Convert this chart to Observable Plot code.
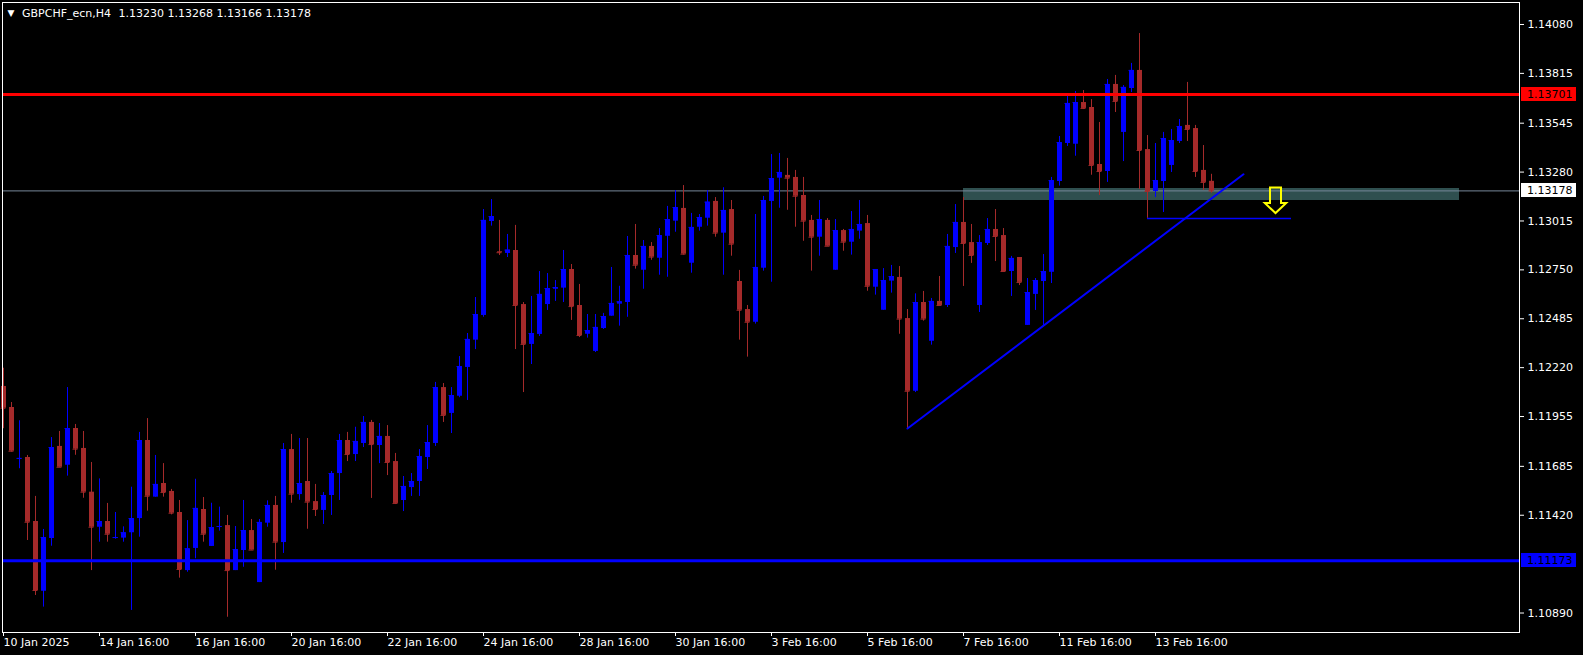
<!DOCTYPE html>
<html>
<head>
<meta charset="utf-8">
<script src="https://cdn.jsdelivr.net/npm/d3@7"></script>
<script src="https://cdn.jsdelivr.net/npm/@observablehq/plot@0.6"></script>
<style>
html, body { margin: 0; padding: 0; background: #000; }
#chart { width: 1583px; height: 655px; overflow: hidden; }
</style>
</head>
<body>
<div id="chart"></div>
<script>
// ---- Data (GBPCHF_ecn, H4) ----
const symbolName = "GBPCHF_ecn,H4";

const opens = [1.12118,1.12004,1.11725,1.11733,1.11386,1.11008,1.11294,1.11793,1.11691,1.11890,
1.11782,1.11545,1.11355,1.11386,1.11294,1.11296,1.11325,1.11402,1.11825,1.11518,
1.11592,1.11549,1.11435,1.11120,1.11240,1.11451,1.11251,1.11355,1.11364,1.11120,
1.11229,1.11337,1.11055,1.11377,1.11473,1.11272,1.11776,1.11532,1.11603,1.11494,
1.11446,1.11527,1.11646,1.11825,1.11749,1.11809,1.11923,1.11798,1.11847,1.11711,
1.11500,1.11570,1.11603,1.11733,1.11809,1.12112,1.11972,1.12065,1.12221,1.12369,
1.12503,1.13012,1.12848,1.12839,1.12855,1.12562,1.12346,1.12400,1.12562,1.12645,
1.12651,1.12752,1.12557,1.12401,1.12308,1.12432,1.12499,1.12564,1.12573,1.12828,
1.12748,1.12877,1.12813,1.12932,1.13014,1.13083,1.12786,1.12981,1.13030,1.13121,
1.12949,1.13077,1.12687,1.12535,1.12466,1.12759,1.13121,1.13247,1.13262,1.13251,
1.13153,1.13018,1.12927,1.13018,1.12748,1.12963,1.12900,1.12960,1.13001,1.12656,
1.12531,1.12689,1.12709,1.12486,1.12092,1.12573,1.12363,1.12579,1.12557,1.12871,
1.13007,1.12898,1.12557,1.12893,1.12969,1.12936,1.12741,1.12817,1.12449,1.12617,
1.12687,1.12737,1.13229,1.13435,1.13431,1.13657,1.13630,1.13321,1.13283,1.13755,
1.13495,1.13733,1.13831,1.13402,1.13175,1.13229,1.13316,1.13446,1.13533,1.13516,
1.13289,1.13230];

const highs = [1.12217,1.12031,1.11932,1.11744,1.11522,1.11343,1.11841,1.11874,1.12112,1.11912,
1.11874,1.11706,1.11617,1.11484,1.11435,1.11357,1.11572,1.11869,1.11944,1.11744,
1.11700,1.11560,1.11500,1.11391,1.11615,1.11516,1.11485,1.11464,1.11419,1.11359,
1.11500,1.11397,1.11397,1.11498,1.11522,1.11809,1.11858,1.11836,1.11836,1.11587,
1.11543,1.11657,1.11858,1.11869,1.11897,1.11955,1.11934,1.11917,1.11906,1.11755,
1.11630,1.11646,1.11776,1.11906,1.12140,1.12134,1.12112,1.12280,1.12405,1.12600,
1.13077,1.13131,1.13018,1.12942,1.12991,1.12573,1.12606,1.12741,1.12730,1.12692,
1.12855,1.12779,1.12671,1.12508,1.12508,1.12514,1.12763,1.12661,1.12931,1.12996,
1.12909,1.12898,1.12974,1.13094,1.13180,1.13207,1.13056,1.13050,1.13180,1.13142,
1.13195,1.13126,1.12747,1.12557,1.13050,1.13148,1.13375,1.13381,1.13354,1.13289,
1.13251,1.13045,1.13126,1.13028,1.13023,1.12969,1.13066,1.13126,1.13045,1.12752,
1.12757,1.12774,1.12768,1.12535,1.12620,1.12633,1.12595,1.12714,1.12942,1.13104,
1.13142,1.12996,1.12936,1.13028,1.13077,1.12974,1.12823,1.12817,1.12703,1.12703,
1.12833,1.13251,1.13473,1.13690,1.13717,1.13722,1.13673,1.13549,1.13782,1.13804,
1.13749,1.13869,1.14031,1.13478,1.13435,1.13495,1.13511,1.13565,1.13766,1.13533,
1.13424,1.13268];

const lows = [1.11889,1.11762,1.11672,1.11283,1.10985,1.10922,1.11252,1.11680,1.11632,1.11745,
1.11512,1.11120,1.11274,1.11274,1.11290,1.11274,1.10904,1.11301,1.11442,1.11518,
1.11518,1.11422,1.11079,1.11111,1.11184,1.11274,1.11251,1.11334,1.10867,1.11120,
1.11138,1.11231,1.11055,1.11355,1.11122,1.11213,1.11485,1.11501,1.11344,1.11413,
1.11370,1.11419,1.11500,1.11711,1.11711,1.11787,1.11511,1.11700,1.11635,1.11478,
1.11440,1.11522,1.11522,1.11668,1.11793,1.11923,1.11863,1.12057,1.12042,1.12318,
1.12493,1.12987,1.12828,1.12817,1.12318,1.12085,1.12237,1.12389,1.12530,1.12579,
1.12573,1.12476,1.12383,1.12380,1.12302,1.12427,1.12499,1.12445,1.12493,1.12754,
1.12645,1.12802,1.12721,1.12710,1.12954,1.12830,1.12732,1.12960,1.12987,1.12927,
1.12721,1.12824,1.12369,1.12277,1.12456,1.12743,1.12683,1.13084,1.13073,1.12981,
1.12905,1.12743,1.12824,1.12878,1.12748,1.12851,1.12830,1.12916,1.12634,1.12613,
1.12531,1.12624,1.12401,1.11890,1.12085,1.12472,1.12342,1.12557,1.12546,1.12839,
1.12660,1.12785,1.12519,1.12882,1.12795,1.12736,1.12606,1.12665,1.12449,1.12530,
1.12449,1.12676,1.13204,1.13419,1.13366,1.13619,1.13263,1.13153,1.13224,1.13603,
1.13337,1.13711,1.13186,1.13029,1.13142,1.13061,1.13278,1.13435,1.13446,1.13251,
1.13180,1.13166];

const closes = [1.12000,1.11767,1.11728,1.11382,1.11012,1.11299,1.11787,1.11680,1.11890,1.11778,
1.11545,1.11355,1.11386,1.11317,1.11299,1.11325,1.11402,1.11825,1.11523,1.11587,
1.11543,1.11431,1.11126,1.11238,1.11457,1.11317,1.11353,1.11359,1.11120,1.11234,
1.11337,1.11231,1.11381,1.11473,1.11274,1.11776,1.11534,1.11592,1.11491,1.11451,
1.11527,1.11646,1.11825,1.11749,1.11820,1.11923,1.11803,1.11847,1.11706,1.11484,
1.11576,1.11603,1.11738,1.11814,1.12112,1.11961,1.12069,1.12226,1.12373,1.12508,
1.13018,1.13039,1.12843,1.12857,1.12557,1.12346,1.12405,1.12617,1.12649,1.12654,
1.12752,1.12551,1.12394,1.12421,1.12438,1.12497,1.12568,1.12577,1.12828,1.12775,
1.12877,1.12819,1.12936,1.13023,1.13088,1.12835,1.12980,1.13034,1.13117,1.12949,
1.13072,1.12889,1.12531,1.12466,1.12763,1.13126,1.13245,1.13278,1.13247,1.13149,
1.13014,1.12927,1.13023,1.12878,1.12963,1.12900,1.12969,1.12996,1.12661,1.12752,
1.12692,1.12714,1.12483,1.12092,1.12573,1.12483,1.12579,1.12557,1.12877,1.13007,
1.12893,1.12828,1.12898,1.12969,1.12931,1.12741,1.12812,1.12682,1.12627,1.12692,
1.12741,1.13234,1.13440,1.13652,1.13657,1.13625,1.13316,1.13283,1.13755,1.13663,
1.13739,1.13831,1.13397,1.13175,1.13234,1.13462,1.13451,1.13527,1.13511,1.13283,
1.13224,1.13178];

// time axis: bar index of each label
const timeTickIndex = [0,12,24,36,48,60,72,84,96,108,120,132,144];
const timeTickLabels = ["10 Jan 2025","14 Jan 16:00","16 Jan 16:00","20 Jan 16:00","22 Jan 16:00",
  "24 Jan 16:00","28 Jan 16:00","30 Jan 16:00","3 Feb 16:00","5 Feb 16:00","7 Feb 16:00",
  "11 Feb 16:00","13 Feb 16:00"];

// price axis labels
const priceTicks = [1.14080,1.13815,1.13545,1.13280,1.13015,1.12750,1.12485,1.12220,1.11955,1.11685,1.11420,1.10890];

// drawn objects
const resistance = 1.13701;
const support = 1.11173;
const bid = 1.13178;
const zoneIndex = [120, 182];
const zonePrice = [1.13126, 1.13191];
const trendIndex = [113, 155];
const trendPrice = [1.11890, 1.13268];
const levelIndex = [143, 161];
const levelPrice = 1.13029;
const arrowIndex = 159;
const arrowPrice = 1.13197;

// ---- Build tables ----
const BULL = "#0000FF", BEAR = "#A52A2A";
const half = 0.3125; // half body width in bars
const candles = opens.map((o, i) => ({
  i, o, h: highs[i], l: lows[i], c: closes[i],
  col: closes[i] >= o ? BULL : BEAR
}));
const fmt5 = d3.format(".5f");
const last = candles[candles.length - 1];
const ohlcText = [last.o, last.h, last.l, last.c].map(fmt5).join(" ");

const zone = [{x1: zoneIndex[0], x2: zoneIndex[1], y1: zonePrice[0], y2: zonePrice[1]}];
const trend = trendIndex.map((x, k) => ({x, y: trendPrice[k]}));
const level = [{y: levelPrice, x1: levelIndex[0], x2: levelIndex[1]}];
const arrow = [{x: arrowIndex, y: arrowPrice}];
const axisBoxes = [
  {value: resistance, bg: "#FF0000", fg: "#000000"},
  {value: bid, bg: "#FFFFFF", fg: "#000000"},
  {value: support, bg: "#0000FF", fg: "#000000"}
];

const arrowSymbol = {
  draw(ctx) {
    ctx.moveTo(-5.5, 0); ctx.lineTo(5.5, 0); ctx.lineTo(5.5, 15.5);
    ctx.lineTo(10.7, 15.5); ctx.lineTo(0, 25.7); ctx.lineTo(-10.7, 15.5);
    ctx.lineTo(-5.5, 15.5); ctx.closePath();
  }
};

function priceBoxes(index, scales, values, dims) {
  const g = d3.create("svg:g");
  const x0 = dims.width - dims.marginRight + 2;
  for (const b of axisBoxes) {
    const yy = Math.round(scales.y(b.value));
    g.append("rect").attr("x", x0).attr("y", yy - 7).attr("width", 55).attr("height", 14).attr("fill", b.bg);
    g.append("text").attr("x", x0 + 6).attr("y", yy).attr("dy", "0.35em")
      .attr("text-anchor", "start")
      .attr("fill", b.fg).attr("font-size", 11).attr("font-family", "DejaVu Sans")
      .text(fmt5(b.value));
  }
  return g.node();
}

const chart = Plot.plot({
  width: 1583,
  height: 655,
  marginLeft: 2,
  marginRight: 64,
  marginTop: 2,
  marginBottom: 23,
  style: {background: "#000", color: "#fff", fontFamily: "DejaVu Sans", fontSize: "11px"},
  x: {type: "linear", domain: [-0.125, 189.5], axis: null},
  y: {type: "linear", domain: [1.107844, 1.141992], axis: null},
  marks: [
    Plot.rect(zone, {x1: "x1", x2: "x2", y1: "y1", y2: "y2", fill: "#2F4F4F"}),
    Plot.ruleY([bid], {stroke: "#778899", strokeWidth: 1}),
    Plot.ruleX(candles, {x: "i", y1: "l", y2: "h", stroke: "col", strokeWidth: 1}),
    Plot.ruleX(candles, {x: "i", y1: "o", y2: "c", stroke: "col", strokeWidth: 5}),
    Plot.ruleY(candles, {y: "c", x1: d => d.i - half, x2: d => d.i + half, stroke: "col", strokeWidth: 1}),
    Plot.ruleY([resistance], {stroke: "#FF0000", strokeWidth: 3}),
    Plot.ruleY([support], {stroke: "#0000FF", strokeWidth: 3}),
    Plot.line(trend, {x: "x", y: "y", stroke: "#0000FF", strokeWidth: 2}),
    Plot.ruleY(level, {y: "y", x1: "x1", x2: "x2", stroke: "#0000FF", strokeWidth: 1.5}),
    Plot.dot(arrow, {x: "x", y: "y", symbol: arrowSymbol, r: 10, stroke: "#FFFF00", strokeWidth: 2, fill: "none"}),
    Plot.frame({stroke: "#fff"}),
    Plot.axisY({anchor: "right", ticks: priceTicks, tickFormat: fmt5, tickSize: 4, tickPadding: 4, label: null}),
    Plot.axisX({anchor: "bottom", ticks: timeTickIndex, tickFormat: d => timeTickLabels[timeTickIndex.indexOf(d)],
      tickSize: 4, tickPadding: 2, textAnchor: "start", label: null}),
    priceBoxes,
    Plot.text(["▼"], {frameAnchor: "top-left", dx: 8.5, dy: 10.5, textAnchor: "middle", lineAnchor: "middle", fontSize: 9, fill: "#fff"}),
    Plot.text([symbolName], {frameAnchor: "top-left", dx: 19.5, dy: 10.5, textAnchor: "start", lineAnchor: "middle", fill: "#fff"}),
    Plot.text([ohlcText], {frameAnchor: "top-left", dx: 116, dy: 10.5, textAnchor: "start", lineAnchor: "middle", fill: "#fff"})
  ]
});
document.getElementById("chart").appendChild(chart);
</script>
</body>
</html>
